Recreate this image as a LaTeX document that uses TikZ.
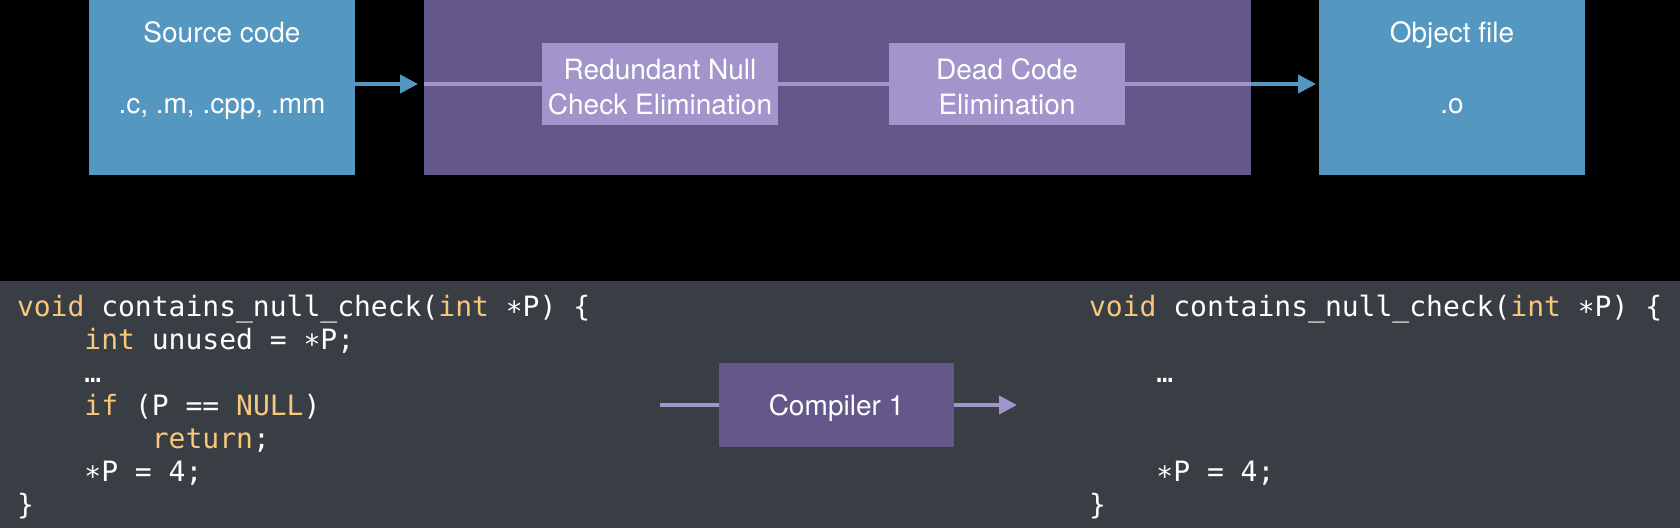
\documentclass[tikz,border=0pt]{standalone}
\usepackage{fontspec}
\setmainfont{TeX Gyre Heros}
\newfontfamily\codefont{DejaVu Sans Mono}
\usetikzlibrary{arrows.meta, positioning}

\definecolor{fileblue}{HTML}{5497C1}
\definecolor{stagepurple}{HTML}{635889}
\definecolor{passpurple}{HTML}{A195CB}
\definecolor{panelgray}{HTML}{393E45}
\definecolor{kworange}{HTML}{F7C77B}

\newcommand{\kw}[1]{\textcolor{kworange}{#1}}
\newcommand{\tab}{\phantom{xxxx}}
\newcommand{\deref}{\raisebox{-0.18em}{*}}
\newcommand{\tallstrut}{\rule{0pt}{25.5pt}}

\begin{document}
\begin{tikzpicture}[x=1pt, y=-1pt,
    every node/.style={text=white, inner sep=0pt, outer sep=0pt, font=\fontsize{28}{35}\selectfont},
    filebox/.style={fill=fileblue, minimum width=266pt, minimum height=175pt},
    stagebox/.style={fill=stagepurple},
    passbox/.style={fill=passpurple, minimum width=236pt, minimum height=82pt, align=center},
    codeblock/.style={align=left, anchor=base west, font=\codefont\fontsize{28}{33}\selectfont},
    flow/.style={line width=4pt, -{Triangle[length=18pt, width=18pt]}}]

    % backgrounds
    \fill[black] (0,0) rectangle (1680,528);
    \fill[panelgray] (0,281) rectangle (1680,528);

    % top pipeline
    \node[filebox] (src) at (222,87.5) {};
    \node[stagebox, minimum width=827pt, minimum height=175pt, right=69pt of src] (pipe) {};
    \node[filebox, right=68pt of pipe] (obj) {};
    \node[passbox] (rnce) at (660,84) {\tallstrut Redundant Null\\Check Elimination};
    \node[passbox] (dce) at (1007,84) {\tallstrut Dead Code\\Elimination};

    \node[anchor=base] (srctitle) at (src |- 0,42) {Source code};
    \node[anchor=base] (srcext) at (src |- 0,113) {.c, .m, .cpp, .mm};
    \node[anchor=base] (objtitle) at (obj |- 0,42) {Object file};
    \node[anchor=base] (objext) at (obj |- 0,113) {.o};

    \draw[flow, fileblue, shorten >=6pt] (src.east |- rnce) -- (pipe.west |- rnce);
    \draw[line width=4pt, passpurple] (pipe.west |- rnce) -- (rnce.west);
    \draw[line width=4pt, passpurple] (rnce.east) -- (dce.west);
    \draw[line width=4pt, passpurple] (dce.east) -- (pipe.east |- dce);
    \draw[flow, fileblue, shorten >=3pt] (pipe.east |- dce) -- (obj.west |- dce);

    % code example (base = last line)
    \node[codeblock] (before) at (17,514) {%
        \kw{void} contains\_null\_check(\kw{int} \deref P) \{\\
        \tab\kw{int} unused = \deref P;\\
        \tab …\\
        \tab\kw{if} (P == \kw{NULL})\\
        \tab\tab\kw{return};\\
        \tab\deref P = 4;\\
        \}};
    \node[codeblock] (after) at (1089,514) {%
        \kw{void} contains\_null\_check(\kw{int} \deref P) \{\\
        \mbox{}\\
        \tab …\\
        \mbox{}\\
        \mbox{}\\
        \tab\deref P = 4;\\
        \}};

    \node[stagebox, minimum width=235pt, minimum height=84pt, text height=20pt, text depth=0pt] (comp) at (836.5,405) {Compiler 1};
    \coordinate (compin) at (660,405);
    \coordinate (compout) at (1017,405);
    \draw[line width=4pt, passpurple] (compin) -- (comp.west);
    \draw[flow, passpurple] (comp.east) -- (compout);
\end{tikzpicture}
\end{document}
